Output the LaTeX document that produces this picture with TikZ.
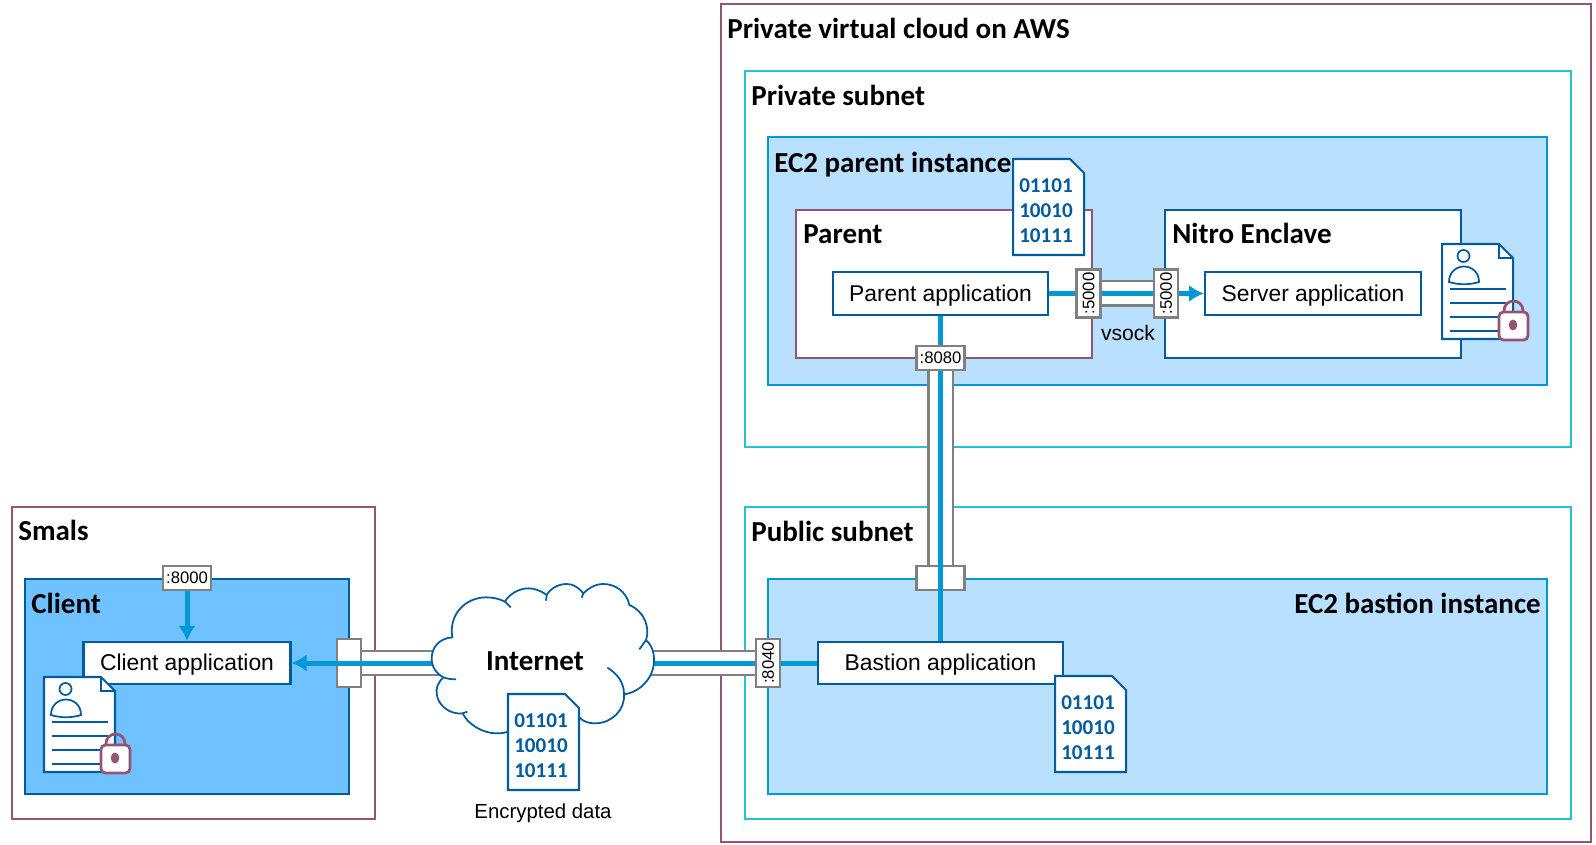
\documentclass[tikz,border=0pt]{standalone}
\usepackage{fontspec}
\setmainfont{Liberation Sans}
\newfontfamily\titlefont{Carlito}
\usetikzlibrary{arrows.meta}
\definecolor{frameP}{RGB}{150,84,116}
\definecolor{subnetC}{RGB}{36,196,206}
\definecolor{instB}{RGB}{0,153,214}
\definecolor{appB}{RGB}{0,92,158}
\definecolor{clientF}{RGB}{112,193,255}
\definecolor{instF}{RGB}{185,224,255}
\definecolor{portG}{RGB}{128,128,128}
\tikzset{
  title/.style={anchor=base west,inner sep=0pt,font=\titlefont\bfseries\fontsize{16.5}{18}\selectfont},
  region/.style={draw=frameP,line width=1.15pt,fill=white},
  subnet/.style={draw=subnetC,line width=1.15pt,fill=white},
  instance/.style={draw=instB,line width=1.15pt,fill=instF},
  enclave/.style={draw=appB,line width=1.15pt,fill=white},
  app/.style={draw=appB,line width=1.15pt,fill=white,inner sep=0pt,text height=.34cm,text depth=.03cm,font=\fontsize{13}{15}\selectfont},
  portH/.style={draw=portG,line width=1.2pt,fill=white,inner sep=0pt,minimum width=.96cm,minimum height=.48cm,font=\fontsize{9.5}{11}\selectfont},
  portV/.style={portH,rotate=90},
  tube/.style={draw=portG,line width=1.2pt,double=white,double distance=.44cm},
  flow/.style={draw=instB,line width=.1cm},
  docline/.style={draw=appB,line width=1.15pt,fill=white,line join=miter},
}
\newcommand{\datafile}[2]{%
  \begin{scope}[shift={(#1,#2)}]
    \draw[docline] (0,0)--(0,1.92)--(1.14,1.92)--(1.42,1.64)--(1.42,0)--cycle;
    \node[align=center,inner sep=0pt,text=appB,font=\titlefont\bfseries\fontsize{12}{14.2}\selectfont] (bits) at (.66,.88) {01101\\10010\\10111};
  \end{scope}}
\newcommand{\keyfile}[2]{%
  \begin{scope}[shift={(#1,#2)}]
    \draw[docline] (0,0)--(0,1.90)--(1.14,1.90)--(1.42,1.62)--(1.42,0)--cycle;
    \draw[appB,line width=.9pt] (1.14,1.90)--(1.14,1.62)--(1.42,1.62);
    % person
    \draw[appB,line width=1pt] (.43,1.66) circle (.12);
    \draw[appB,line width=1pt] (.14,1.14) .. controls (.14,1.35) and (.3,1.45) .. (.44,1.45)
      .. controls (.58,1.45) and (.74,1.35) .. (.74,1.14)
      .. controls (.55,1.08) and (.33,1.08) .. (.14,1.14) -- cycle;
    \foreach \y in {1.0,.72,.44,.16}
      \draw[appB,line width=1.5pt] (.16,\y)--(1.28,\y);
    % lock
    \draw[frameP,line width=1.6pt] (1.24,.5)--(1.24,.57) arc (180:0:.19)--(1.62,.5);
    \draw[frameP,line width=1.6pt,fill=white,rounded corners=2.5pt] (1.14,-.02) rectangle (1.72,.54);
    \fill[frameP] (1.42,.28) ellipse (.085 and .11);
  \end{scope}}

\begin{document}
\begin{tikzpicture}[>={Latex[length=.3cm,width=.34cm]}]
\useasboundingbox (0,0) rectangle (31.92,16.88);
% ================= frames =================
\node[region,minimum width=17.4cm,minimum height=16.76cm] (aws) at (23.12,8.42) {};
\node[subnet,minimum width=16.52cm,minimum height=7.52cm] (privNet) at (23.16,11.70) {};
\node[instance,minimum width=15.58cm,minimum height=4.96cm] (parentInst) at (23.15,11.66) {};
\node[subnet,minimum width=16.52cm,minimum height=6.24cm] (pubNet) at (23.16,3.62) {};
\node[instance,minimum width=15.58cm,minimum height=4.30cm] (bastionInst) at (23.15,3.15) {};
\node[region,minimum width=7.26cm,minimum height=6.24cm] (smals) at (3.87,3.62) {};
\node[instance,draw=appB,fill=clientF,minimum width=6.48cm,minimum height=4.30cm] (clientInst) at (3.74,3.15) {};
\node[region,minimum width=5.92cm,minimum height=2.96cm] (parentBox) at (18.88,11.20) {};
\node[enclave,minimum width=5.92cm,minimum height=2.96cm] (nitro) at (26.26,11.20) {};
% titles
\node[title] (tAws) at (14.54,16.11) {Private virtual cloud on AWS};
\node[title] (tPriv) at (15.02,14.76) {Private subnet};
\node[title] (tInst) at (15.48,13.42) {EC2 parent instance};
\node[title] (tParent) at (16.06,12.00) {Parent};
\node[title] (tNitro) at (23.44,12.00) {Nitro Enclave};
\node[title] (tPub) at (15.02,6.04) {Public subnet};
\node[title,anchor=base east] (tBast) at (30.82,4.62) {EC2 bastion instance};
\node[title] (tSmals) at (.36,6.06) {Smals};
\node[title] (tClient) at (.62,4.62) {Client};
% ================= applications =================
\node[app,minimum width=4.14cm,minimum height=.84cm] (clientApp) at (3.74,3.62) {Client application};
\node[app,minimum width=4.90cm,minimum height=.84cm] (bastionApp) at (18.81,3.62) {Bastion application};
\node[app,minimum width=4.30cm,minimum height=.86cm] (parentApp) at (18.81,11.01) {Parent application};
\node[app,minimum width=4.32cm,minimum height=.86cm] (serverApp) at (26.26,11.01) {Server application};
% ================= ports =================
\node[portH] (port8000) at (3.74,5.32) {:8000};
\node[portV] (portLeft) at (6.98,3.62) {};
\node[portV] (port8040) at (15.36,3.62) {:8040};
\node[portV] (port5000L) at (21.77,11.01) {:5000};
\node[portV] (port5000R) at (23.32,11.01) {:5000};
\node[portH] (port8080) at (18.81,9.72) {:8080};
\node[portH] (portTop) at (18.81,5.32) {};
\coordinate (cloudC) at (10.86,3.62);
% ================= tubes and flows =================
\draw[tube] (portLeft)--(cloudC)--(port8040);
\draw[tube] (port5000L)--(port5000R);
\draw[tube] (port8080)--(portTop);
\draw[flow,->] (port8000)--(clientApp);
\draw[flow,->] (cloudC)--(clientApp);
\draw[flow] (cloudC)--(port8040);
\draw[flow] (port8040)--(bastionApp);
\draw[flow] (port8080)--(bastionApp);
\draw[flow] (parentApp)--(port8080);
\draw[flow] (parentApp)--(port5000L);
\draw[flow] (port5000L)--(port5000R);
\draw[flow,->] (port5000R)--(serverApp);
\node[inner sep=0pt,font=\fontsize{12}{14}\selectfont] (vsock) at (22.56,10.22) {vsock};
% ================= cloud =================
\begin{scope}[shift={(8,5.68)},x=.006667cm,y=-.006667cm]
  \draw[appB,line width=1pt,fill=white] (157,232)
    .. controls (115,235) and (95,265) .. (95,295)
    .. controls (95,320) and (108,340) .. (130,352)
    .. controls (112,370) and (108,385) .. (110,400)
    .. controls (112,435) and (150,465) .. (188,460)
    .. controls (205,495) and (250,520) .. (290,520)
    .. controls (305,520) and (315,518) .. (325,515)
    -- (535,470)
    .. controls (550,485) and (565,490) .. (585,490)
    .. controls (635,490) and (675,450) .. (672,403)
    .. controls (725,395) and (762,350) .. (762,300)
    .. controls (762,275) and (755,255) .. (738,240)
    .. controls (750,205) and (735,155) .. (688,135)
    .. controls (680,95) and (645,72) .. (610,72)
    .. controls (585,72) and (565,85) .. (550,100)
    .. controls (535,82) and (520,72) .. (500,72)
    .. controls (470,72) and (448,90) .. (440,105)
    .. controls (420,90) and (400,85) .. (385,85)
    .. controls (355,85) and (325,105) .. (315,125)
    .. controls (295,115) and (275,112) .. (258,112)
    .. controls (200,112) and (145,160) .. (157,232) -- cycle;
  \draw[appB,line width=1pt] (130,352) .. controls (140,356) and (155,358) .. (168,358);
  \draw[appB,line width=1pt] (188,460) -- (202,455);
  \draw[appB,line width=1pt] (672,403) .. controls (672,365) and (650,340) .. (622,323);
  \draw[appB,line width=1pt] (738,240) -- (718,268);
  \draw[appB,line width=1pt] (550,100) -- (545,113);
  \draw[appB,line width=1pt] (440,105) -- (438,122);
  \draw[appB,line width=1pt] (315,125) -- (332,142);
\end{scope}
\node[title,anchor=base] (internet) at (10.70,3.48) {Internet};
% ================= files =================
\datafile{10.16}{1.08}
\datafile{20.26}{11.78}
\datafile{21.10}{1.44}
\keyfile{.88}{1.44}
\keyfile{28.84}{10.10}
\node[inner sep=0pt,font=\fontsize{11.6}{14}\selectfont] (encData) at (10.86,.62) {Encrypted data};
\end{tikzpicture}
\end{document}
